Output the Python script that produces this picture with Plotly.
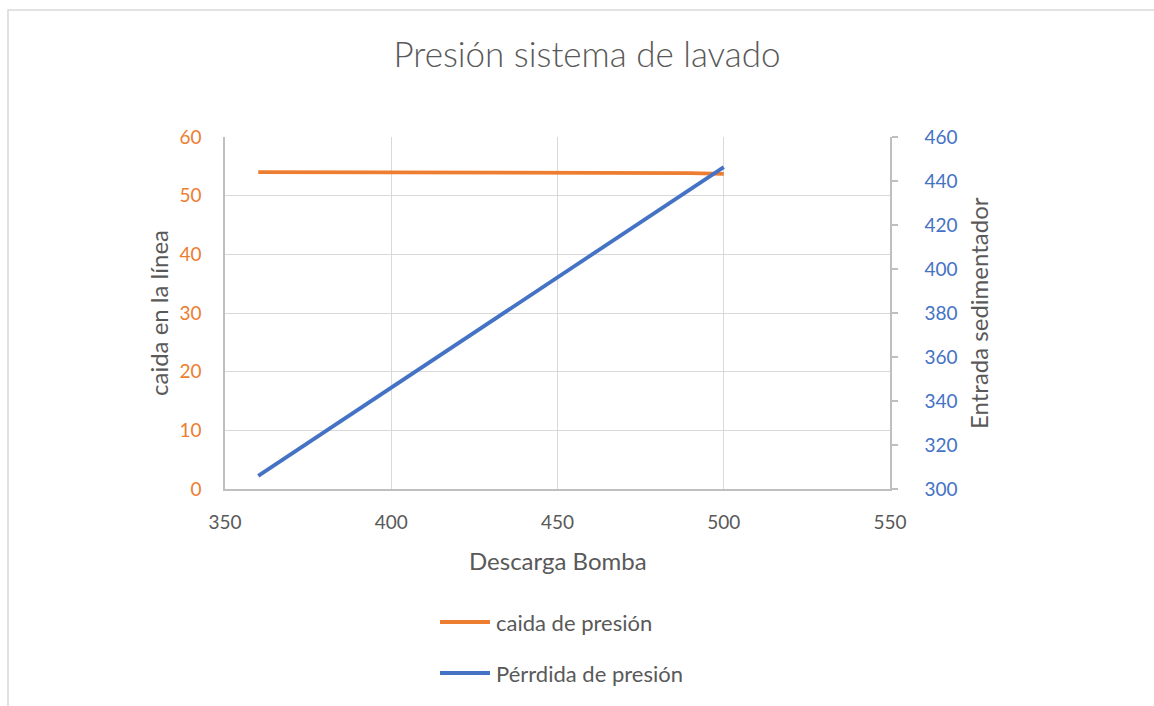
import plotly.graph_objects as go

# Pump discharge pressure (x) and the two measured series
descarga = [360, 370, 380, 390, 400, 410, 420, 430, 440, 450, 460, 470, 480, 490, 500]
caida = [54, 54, 54, 54, 54, 54, 54, 53.85, 53.85, 53.85, 53.85, 53.85, 53.85, 53.85, 53.7]
entrada = [306, 316, 326, 336, 346, 356, 366, 376.15, 386.15, 396.15, 406.15, 416.15,
           426.15, 436.15, 446.3]

serie_names = ["caida de presión", "Pérrdida de presión"]
x_ticks = [350, 400, 450, 500, 550]
y1_ticks = [0, 10, 20, 30, 40, 50, 60]
y2_ticks = [300, 320, 340, 360, 380, 400, 420, 440, 460]

ORANGE = "#ED7D31"
BLUE = "#4472C4"
GRAY_TXT = "#595959"
GRID = "#D9D9D9"
AXIS = "#BFBFBF"
FONT = "Lato, 'Open Sans', sans-serif"

W, H = 1154, 706
L, R, T, B = 225, 890, 137, 489  # plot area in pixels


def px(xp):
    return (xp - L) / (R - L)


def py(yp):
    return (B - yp) / (B - T)


fig = go.Figure()
fig.add_trace(go.Scatter(x=descarga, y=caida, mode="lines", name=serie_names[0],
                         line=dict(color=ORANGE, width=3.8), yaxis="y", showlegend=False))
fig.add_trace(go.Scatter(x=descarga, y=entrada, mode="lines", name=serie_names[1],
                         line=dict(color=BLUE, width=3.8), yaxis="y2", showlegend=False))

shapes = [
    # chart frame
    dict(type="rect", xref="paper", yref="paper", x0=px(8), x1=px(1200), y0=py(10), y1=py(760),
         line=dict(color=GRID, width=1.5), fillcolor="rgba(0,0,0,0)", layer="below"),
]
annotations = [
    dict(text="caida en la línea", xref="paper", yref="paper", x=px(158), y=py(313),
         textangle=-90, showarrow=False, font=dict(family=FONT, size=24, color=GRAY_TXT),
         xanchor="center", yanchor="middle"),
    dict(text="Entrada sedimentador", xref="paper", yref="paper", x=px(978), y=py(313),
         textangle=-90, showarrow=False, font=dict(family=FONT, size=24, color=GRAY_TXT),
         xanchor="center", yanchor="middle"),
    dict(text="Descarga Bomba", xref="paper", yref="paper", x=px(558), y=py(560),
         showarrow=False, font=dict(family=FONT, size=24, color=GRAY_TXT),
         xanchor="center", yanchor="middle"),
]

# legend drawn as line samples with labels
for name, color, yl in [(serie_names[0], ORANGE, 622), (serie_names[1], BLUE, 673)]:
    shapes.append(dict(type="line", xref="paper", yref="paper", x0=px(440), x1=px(490),
                       y0=py(yl), y1=py(yl), line=dict(color=color, width=3.8)))
    annotations.append(dict(text=name, xref="paper", yref="paper", x=px(494), y=py(yl),
                            showarrow=False, xanchor="left", yanchor="middle",
                            font=dict(family=FONT, size=22, color=GRAY_TXT)))

fig.update_layout(
    width=W, height=H,
    margin=dict(l=L, r=W - R, t=T, b=H - B),
    paper_bgcolor="white", plot_bgcolor="white",
    title=dict(text="Presión sistema de lavado", x=587 / W, xref="container",
               y=1 - 55 / H, yref="container", xanchor="center", yanchor="middle",
               font=dict(family=FONT, size=35, color=GRAY_TXT, weight=300)),
    font=dict(family=FONT, color=GRAY_TXT),
    xaxis=dict(range=[350, 550], tickvals=x_ticks, showgrid=True, gridcolor=GRID, gridwidth=1.3,
               showline=True, linecolor=AXIS, linewidth=1.5, zeroline=False, ticks="",
               tickfont=dict(size=19, color=GRAY_TXT), ticklabelstandoff=15),
    yaxis=dict(range=[0, 60], tickvals=y1_ticks, showgrid=True, gridcolor=GRID, gridwidth=1.3,
               showline=True, linecolor=AXIS, linewidth=1.5, zeroline=False, ticks="",
               tickfont=dict(size=19, color=ORANGE), ticklabelstandoff=18),
    yaxis2=dict(range=[300, 460], tickvals=y2_ticks, overlaying="y", side="right", showgrid=False,
                showline=True, linecolor=AXIS, linewidth=1.5, zeroline=False, ticks="outside",
                ticklen=6, tickcolor=AXIS, tickwidth=1.5,
                tickfont=dict(size=19, color=BLUE), ticklabelstandoff=23),
    shapes=shapes,
    annotations=annotations,
)

fig.write_html("out.html")
